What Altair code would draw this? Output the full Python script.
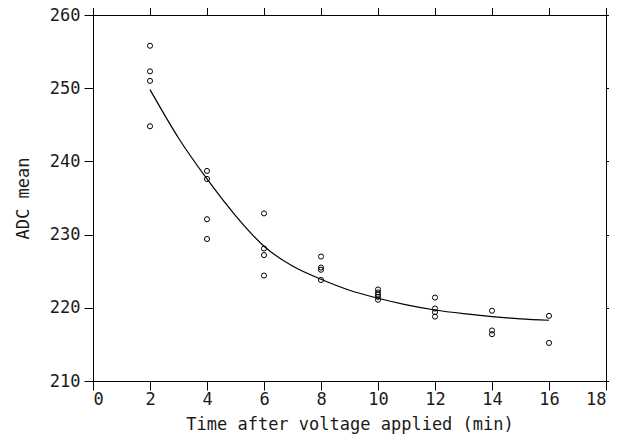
import altair as alt
import pandas as pd

# measured points
pt_time = [2, 2, 2, 2,
           4, 4, 4, 4,
           6, 6, 6, 6,
           8, 8, 8, 8,
           10, 10, 10, 10, 10,
           12, 12, 12, 12,
           14, 14, 14,
           16, 16]
pt_adc = [255.8, 252.3, 251.0, 244.8,
          238.7, 237.6, 232.1, 229.4,
          232.9, 228.1, 227.2, 224.4,
          227.0, 225.5, 225.2, 223.8,
          222.5, 222.1, 221.8, 221.5, 221.1,
          221.4, 219.9, 219.4, 218.8,
          219.6, 216.9, 216.4,
          218.9, 215.2]

# fitted curve
fit_time = [2, 3, 4, 5, 6, 7, 8, 9, 10, 11, 12, 13, 14, 15, 16]
fit_adc = [249.8, 243.2, 237.6, 232.6, 228.4, 225.7, 223.9, 222.4,
           221.3, 220.4, 219.7, 219.2, 218.8, 218.5, 218.3]

x_ticks = list(range(0, 19, 2))
y_ticks = list(range(210, 261, 10))

pts = pd.DataFrame({"t": pt_time, "adc": pt_adc})
fit = pd.DataFrame({"t": fit_time, "adc": fit_adc})

FONT = "DejaVu Sans Mono"
xscale = alt.Scale(domain=[0, 18], nice=False, zero=False)
yscale = alt.Scale(domain=[210, 260], nice=False, zero=False)

common_axis = dict(
    domainColor="black", tickColor="black", domainWidth=1, tickWidth=1,
    tickSize=9, grid=False, labelFont=FONT, labelFontSize=17,
    labelColor="#1a1a1a", titleFont=FONT, titleFontSize=17,
    titleFontWeight="normal", titleColor="#1a1a1a", labelFontWeight="normal",
)

points = alt.Chart(pts).mark_point(
    shape="circle", size=26, filled=False, color="black", strokeWidth=1, opacity=1
).encode(
    x=alt.X("t:Q", scale=xscale,
            axis=alt.Axis(orient="bottom", values=x_ticks, title="Time after voltage applied (min)",
                          labelPadding=1, titlePadding=9, **common_axis)),
    y=alt.Y("adc:Q", scale=yscale,
            axis=alt.Axis(orient="left", values=y_ticks, title="ADC mean",
                          labelPadding=4, titlePadding=17, **common_axis)),
)

line = alt.Chart(fit).mark_line(
    color="black", strokeWidth=1.2, interpolate="monotone"
).encode(
    x=alt.X("t:Q", scale=xscale,
            axis=alt.Axis(orient="top", values=x_ticks, labels=False, title=None, **common_axis)),
    y=alt.Y("adc:Q", scale=yscale,
            axis=alt.Axis(orient="right", values=y_ticks, labels=False, title=None, **common_axis)),
)

chart = alt.layer(points, line).resolve_axis(
    x="independent", y="independent"
).properties(
    width=513, height=366,
    autosize=alt.AutoSizeParams(type="none"),
    padding={"left": 85, "top": 7, "right": 3, "bottom": 56},
).configure_view(stroke=None).configure(background="white")

chart.save("out.html", embed_options={"renderer": "svg", "actions": False})
